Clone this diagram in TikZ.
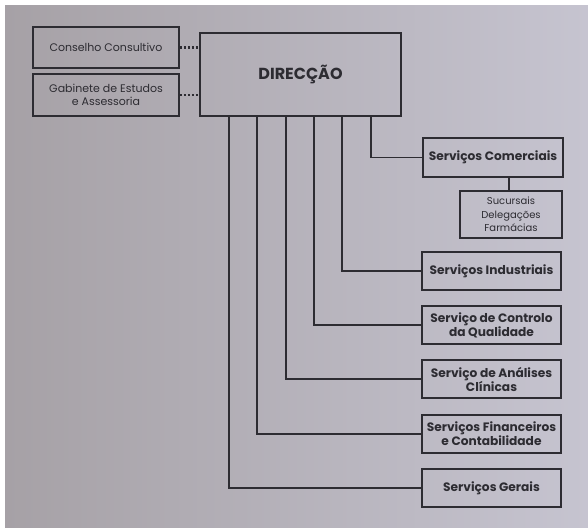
\documentclass[tikz,border=0pt]{standalone}
\usepackage{fontspec}
\setmainfont{Poppins}
\definecolor{bgL}{RGB}{166,161,166}
\definecolor{bgR}{RGB}{198,196,208}
\definecolor{ink}{RGB}{45,44,50}
\begin{document}
\begin{tikzpicture}[x=1pt,y=-1pt,
  box/.style={draw=ink,line width=1.6pt,inner sep=0pt,align=center,text=ink},
  svc/.style={box,minimum width=139pt,minimum height=38pt,font=\fontsize{12.2}{14}\selectfont\bfseries},
  side/.style={box,minimum width=146pt,minimum height=41pt,font=\fontsize{11}{13}\selectfont},
  link/.style={draw=ink,line width=1.6pt},
  dots/.style={draw=ink,line width=2.4pt,dash pattern=on 2pt off 2pt}]
\useasboundingbox (0,0) rectangle (588,527);
\fill[white] (0,0) rectangle (588,527);
\shade[left color=bgL,right color=bgR] (5,6) rectangle (588,527);
\node[side] (con) at (106,47.5) {Conselho Consultivo};
\node[side,minimum height=42pt] (gab) at (106,95) {Gabinete de Estudos\\e Assessoria};
\node[box,minimum width=201pt,minimum height=83pt,font=\fontsize{16}{18}\selectfont\bfseries] (dir) at (300.5,74.5) {DIRECÇÃO};
\node[svc,minimum width=140pt,minimum height=39pt] (com) at (493,157.5) {Serviços Comerciais};
\node[box,minimum width=102pt,minimum height=47pt,font=\fontsize{10}{13.5}\selectfont] (suc) at (511,214.5) {Sucursais\\Delegações\\Farmácias};
\node[svc] (ind) at (491.5,271) {Serviços Industriais};
\node[svc] (ctl) at (491.5,325) {Serviço de Controlo\\da Qualidade};
\node[svc] (ana) at (491.5,379) {Serviço de Análises\\Clínicas};
\node[svc] (fin) at (491.5,434) {Serviços Financeiros\\e Contabilidade};
\node[svc] (ger) at (491.5,488) {Serviços Gerais};
\draw[dots] (con.east) -- (con.east -| dir.west);
\draw[dots] (gab.east) -- (gab.east -| dir.west);
\draw[link] ([xshift=172pt]dir.south west) |- (com.west);
\draw[link] ([xshift=143pt]dir.south west) |- (ind.west);
\draw[link] ([xshift=115pt]dir.south west) |- (ctl.west);
\draw[link] ([xshift=87pt]dir.south west) |- (ana.west);
\draw[link] ([xshift=58pt]dir.south west) |- (fin.west);
\draw[link] ([xshift=30pt]dir.south west) |- (ger.west);
\draw[link] ([xshift=-2pt]suc.north) -- ([xshift=-2pt]suc.north |- com.south);
\end{tikzpicture}
\end{document}
